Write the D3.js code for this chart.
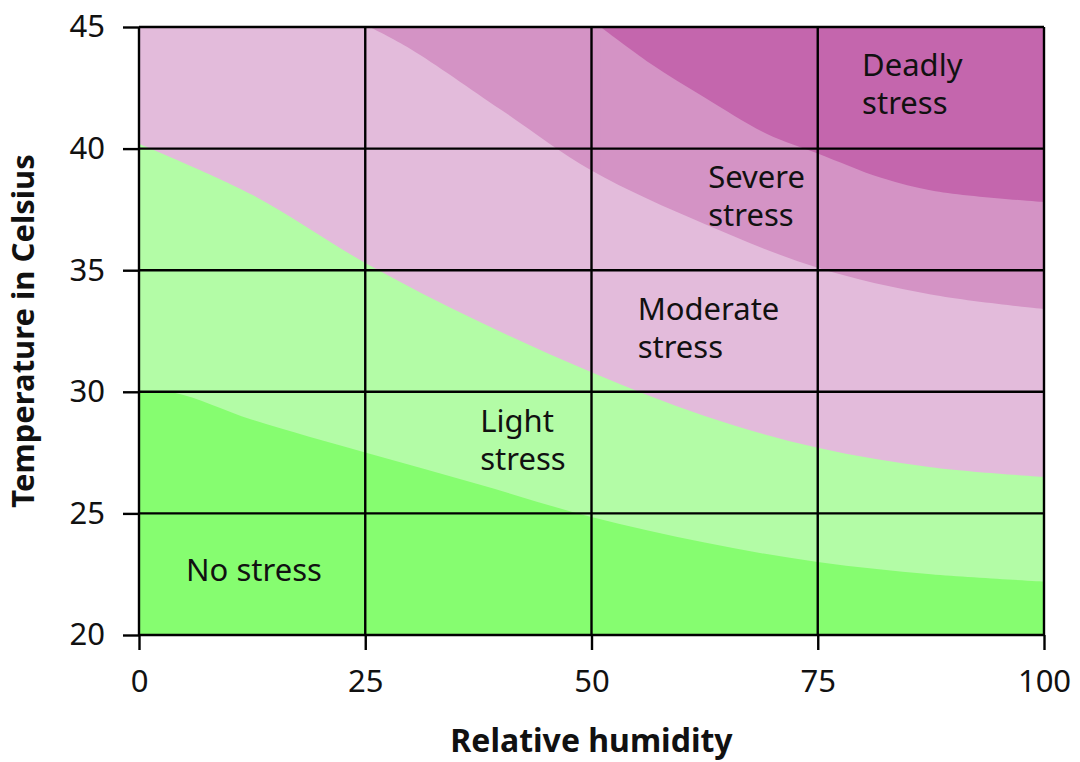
<!DOCTYPE html>
<html>
<head>
<meta charset="utf-8">
<script src="https://d3js.org/d3.v7.min.js"></script>
<style>
  body { margin: 0; background: #fff; }
  svg { display: block; font-family: "Noto Sans", "Open Sans", sans-serif; }
</style>
</head>
<body>
<div id="chart"></div>
<script>
// humidity (%) / temperature (C) points
const noStressTop = [[0, 30], [4, 29.95], [12.5, 28.85], [25, 27.5], [37.5, 26.2], [50, 24.85], [62.5, 23.8], [75, 23.0], [87.5, 22.5], [100, 22.2]];
const lightTop = [[0, 40.2], [12.5, 38.1], [25, 35.3], [37.5, 32.9], [50, 30.8], [62.5, 29.0], [75, 27.7], [87.5, 26.9], [100, 26.5]];
const moderateTop = [[25.5, 45], [30, 44.1], [40, 41.6], [50, 39.1], [62.5, 36.9], [75, 35.1], [87.5, 34.0], [100, 33.4]];
const severeTop = [[51, 45], [56.5, 43.5], [62.5, 42.1], [69.4, 40.6], [75, 39.8], [82, 38.8], [88, 38.25], [100, 37.8]];

const zoneNames = ["No stress", "Light stress", "Moderate stress", "Severe stress", "Deadly stress"];
const zoneColors = ["#86fd70", "#b3fca6", "#e3bbdb", "#d493c5", "#c466ad"];
// label anchor (humidity, temperature of first baseline)
const zoneLabels = [
  {lines: ["No stress"], at: [5.2, 22.2]},
  {lines: ["Light", "stress"], at: [37.7, 28.35]},
  {lines: ["Moderate", "stress"], at: [55.1, 32.95]},
  {lines: ["Severe", "stress"], at: [62.9, 38.4]},
  {lines: ["Deadly", "stress"], at: [79.9, 43.0]}
];

const xTicks = [0, 25, 50, 75, 100];
const yTicks = [20, 25, 30, 35, 40, 45];

const width = 1080, height = 762;
const margin = {top: 27, right: 36, bottom: 127, left: 139};

const svg = d3.select("#chart").append("svg")
  .attr("width", width)
  .attr("height", height);

const x = d3.scaleLinear().domain([0, 100]).range([margin.left, width - margin.right]);
const y = d3.scaleLinear().domain([20, 45]).range([height - margin.bottom, margin.top]);

const plot = svg.append("g");

// deadly zone fills everything, lower zones are painted over it
plot.append("rect")
  .attr("x", x(0)).attr("y", y(45))
  .attr("width", x(100) - x(0)).attr("height", y(20) - y(45))
  .attr("fill", zoneColors[4]);

const tops = [noStressTop, lightTop, moderateTop, severeTop];
const area = d3.area()
  .x(d => x(d[0]))
  .y0(y(20))
  .y1(d => y(d[1]))
  .curve(d3.curveCatmullRom.alpha(0.5));

for (let i = 3; i >= 0; i--) {
  const pts = tops[i];
  // left of where the curve meets the top edge the zone fills to 45
  if (pts[0][0] > 0) {
    plot.append("rect")
      .attr("x", x(0)).attr("y", y(45))
      .attr("width", x(pts[0][0]) - x(0) + 0.5).attr("height", y(20) - y(45))
      .attr("fill", zoneColors[i]);
  }
  plot.append("path")
    .datum(pts)
    .attr("d", area)
    .attr("fill", zoneColors[i]);
}

// grid
const grid = svg.append("g").attr("stroke", "#000").attr("stroke-width", 2.4);
grid.selectAll(".v").data(xTicks).join("line")
  .attr("x1", d => x(d)).attr("x2", d => x(d))
  .attr("y1", y(45)).attr("y2", y(20));
grid.selectAll(".h").data(yTicks).join("line")
  .attr("x1", x(0)).attr("x2", x(100))
  .attr("y1", d => y(d)).attr("y2", d => y(d));

// axes
const xAxis = svg.append("g")
  .attr("transform", `translate(0,${y(20)})`)
  .call(d3.axisBottom(x).tickValues(xTicks).tickSize(15).tickPadding(20));
const yAxis = svg.append("g")
  .attr("transform", `translate(${x(0)},0)`)
  .call(d3.axisLeft(y).tickValues(yTicks).tickSize(16).tickPadding(18));

[xAxis, yAxis].forEach(g => {
  g.select(".domain").remove();
  g.selectAll(".tick line").attr("stroke", "#000").attr("stroke-width", 2.4);
  g.selectAll(".tick text")
    .attr("fill", "#111")
    .style("font-size", "31px")
    .style("font-family", "'Noto Sans', sans-serif");
});

// zone labels
zoneLabels.forEach(l => {
  const t = svg.append("text")
    .attr("x", x(l.at[0]))
    .attr("y", y(l.at[1]))
    .attr("fill", "#111")
    .style("font-size", "31px");
  l.lines.forEach((s, j) => {
    t.append("tspan").attr("x", x(l.at[0])).attr("dy", j === 0 ? 0 : 38).text(s);
  });
});

// axis titles
svg.append("text")
  .attr("x", (x(0) + x(100)) / 2)
  .attr("y", 752)
  .attr("text-anchor", "middle")
  .attr("fill", "#111")
  .style("font-size", "32px")
  .style("font-weight", "bold")
  .text("Relative humidity");

svg.append("text")
  .attr("transform", `translate(34,${(y(20) + y(45)) / 2}) rotate(-90)`)
  .attr("text-anchor", "middle")
  .attr("fill", "#111")
  .style("font-size", "31px")
  .style("font-weight", "bold")
  .text("Temperature in Celsius");
</script>
</body>
</html>
